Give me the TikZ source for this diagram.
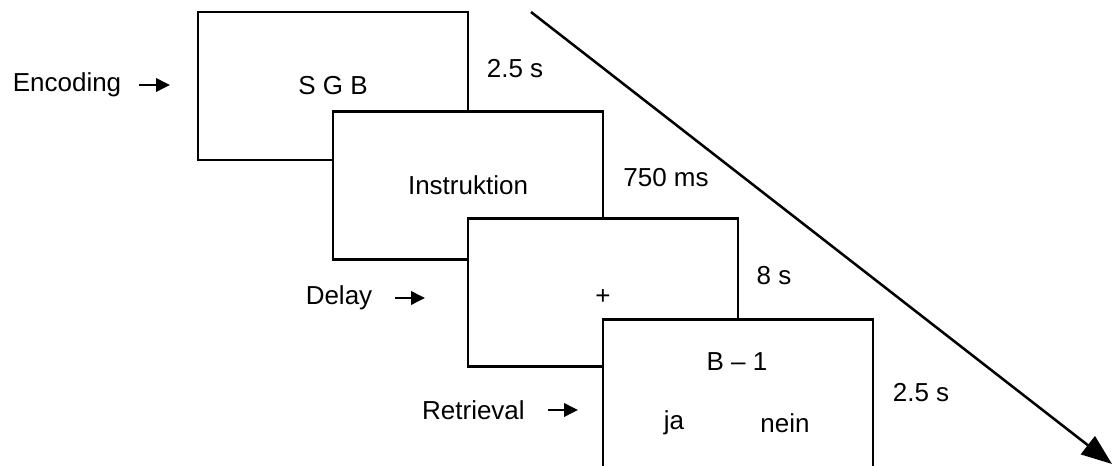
\documentclass[tikz,border=0pt]{standalone}
\usepackage{fontspec}
\setmainfont{Liberation Sans}
\usetikzlibrary{arrows.meta, positioning}

\begin{document}
\begin{tikzpicture}[
  x=0.75pt, y=-0.75pt,
  screen/.style={draw, fill=white, line width=1.9pt, minimum width=202.5pt, minimum height=111pt, inner sep=0pt},
  txt/.style={inner sep=0pt, font=\fontsize{19.5}{23}\selectfont},
  pointer/.style={-{Triangle[length=10.5pt, width=10pt]}, line width=1.9pt, shorten <=13.5pt},
  timeline/.style={-{Triangle[length=23pt, width=17pt]}, line width=1.9pt}
]
\useasboundingbox (0,0) rectangle (1115,466);
\clip (0,0) rectangle (1115,466);

% stacked screens, each one on top of the last
\node[screen, txt] (enc) at (333,86) {S G B};
\node[screen, txt] (instr) at (468,185.5) {Instruktion};
\node[screen] (delay) at (603,292.5) {};
\node[screen] (retr) at (738,393.5) {};

\node[txt] (fix) at (603,297) {+};
\node[txt] (probe) at (737,362) {B -- 1};
\node[txt] (yes) at (674,423) {ja};
\node[txt] (no) at (785,423) {nein};

% durations
\node[txt] (t1) at (515,69) {2.5 s};
\node[txt] (t2) at (666,178) {750 ms};
\node[txt] (t3) at (774,276) {8 s};
\node[txt] (t4) at (921,393) {2.5 s};

% phase labels
\node[txt] (lenc) at (67,85) {Encoding};
\node[txt] (ldelay) at (339,298) {Delay};
\node[txt, anchor=east] (lretr) at (525,410) {Retrieval};
\coordinate (penc) at (170,85);
\coordinate (pdelay) at (425,298);
\coordinate (pretr) at (578,410);

\draw[pointer] (lenc.east) -- (penc);
\draw[pointer, shorten <=17pt] (ldelay.east) -- (pdelay);
\draw[pointer, shorten <=17pt] (lretr.east) -- (pretr);

% time axis
\coordinate (tstart) at (531,12);
\coordinate (tend) at (1112,464);
\draw[timeline] (tstart) -- (tend);
\end{tikzpicture}
\end{document}
